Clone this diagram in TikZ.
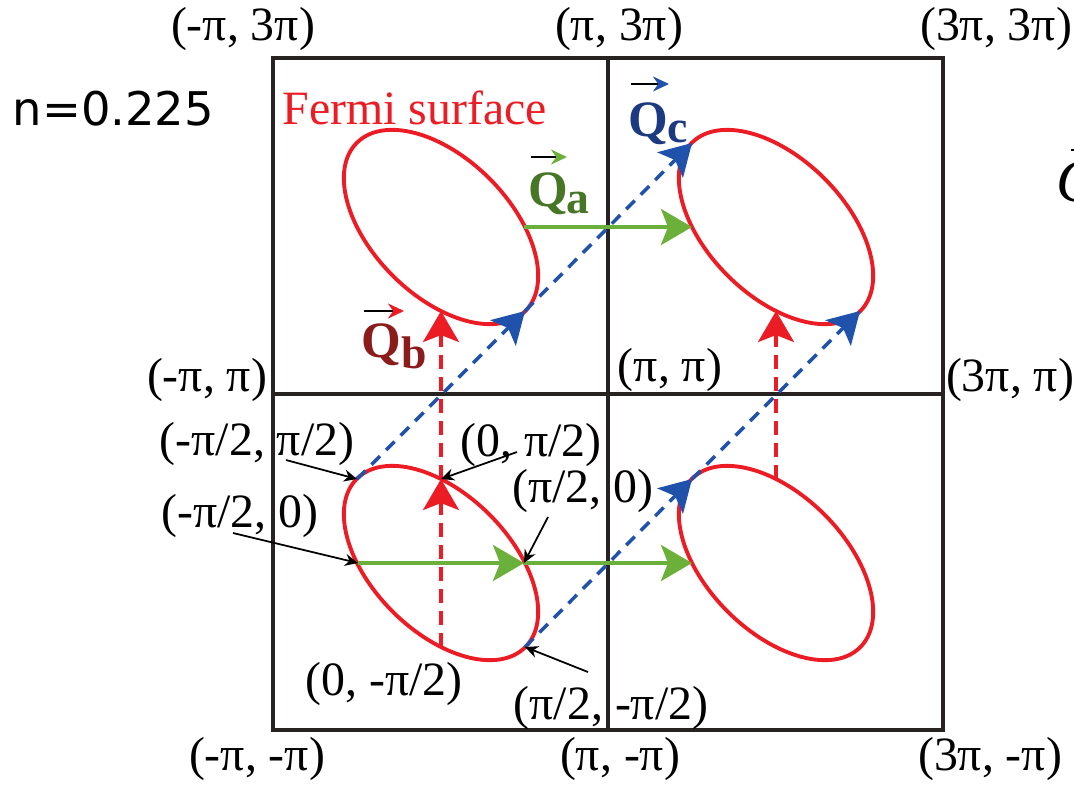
\documentclass[tikz,border=0pt]{standalone}
\usepackage{fontspec}
\setmainfont{Liberation Serif}
\newfontfamily\densityfont{DejaVu Sans}
\usetikzlibrary{arrows.meta}
\definecolor{gridgray}{RGB}{40,34,34}
\definecolor{fsred}{RGB}{236,28,36}
\definecolor{qgreen}{RGB}{108,176,60}
\definecolor{qblue}{RGB}{32,82,172}
\definecolor{qatext}{RGB}{70,118,38}
\definecolor{qbtext}{RGB}{140,28,28}
\definecolor{qctext}{RGB}{28,58,130}

\begin{document}
\begin{tikzpicture}[
  x=0.01cm, y=-0.01cm,
  every node/.style={font=\fontsize{13.6}{16}\selectfont, inner sep=0pt},
  gridline/.style={draw=gridgray, line width=1pt},
  fermiline/.style={draw=fsred, line width=1.1pt},
  qaline/.style={draw=qgreen, line width=1.1pt},
  qbline/.style={draw=fsred, line width=1pt, dash pattern=on 0.14cm off 0.08cm},
  qcline/.style={draw=qblue, line width=1pt, dash pattern=on 0.12cm off 0.085cm},
  bigarr/.style={-{Stealth[length=3.1mm, width=3.6mm, inset=0.7mm]}},
  ptarr/.style={-{Stealth[length=1.3mm, width=1.2mm]}, line width=0.5pt},
  vecarr/.style={line width=0.8pt, -{Stealth[length=1.6mm, width=1.5mm, color=#1]}},
  qtext/.style={font=\fontsize{14.5}{16}\selectfont\bfseries, text=#1},
  qsub/.style={font=\fontsize{13}{14}\selectfont\bfseries, text=#1},
]
\useasboundingbox (0,0) rectangle (1074,784);

%% Brillouin zone grid
\draw[gridline] (273,58) rectangle (943,730);
\draw[gridline] (608,58) -- (608,730);
\draw[gridline] (273,394) -- (943,394);

%% Corner labels
\node (c1) at (243,29)  {(-π, 3π)};
\node (c2) at (619,29)  {(π, 3π)};
\node (c3) at (996,29)  {(3π, 3π)};
\node (c4) at (207,380) {(-π, π)};
\node (c5) at (670,370) {(π, π)};
\node (c6) at (1010,380) {(3π, π)};
\node (c7) at (257,759) {(-π, -π)};
\node (c8) at (620,759) {(π, -π)};
\node (c9) at (990,759) {(3π, -π)};

%% Filling and title
\node[anchor=base west, font=\densityfont\fontsize{13.2}{14}\selectfont] (filling) at (12,125) {n=0.225};
\node[anchor=base west, text=fsred] (fstitle) at (282,124) {Fermi surface};

%% Fermi surfaces
\draw[fermiline, rotate around={-45:(441,227)}] (441,227) ellipse [x radius=1.19cm, y radius=0.685cm];
\draw[fermiline, rotate around={-45:(776,227)}] (776,227) ellipse [x radius=1.19cm, y radius=0.685cm];
\draw[fermiline, rotate around={-45:(441,563)}] (441,563) ellipse [x radius=1.19cm, y radius=0.685cm];
\draw[fermiline, rotate around={-45:(776,563)}] (776,563) ellipse [x radius=1.19cm, y radius=0.685cm];

%% Points on the Fermi surfaces
\coordinate (blL)  at (358,563);
\coordinate (blR)  at (524,563);
\coordinate (blT)  at (441,479);
\coordinate (blB)  at (441,647);
\coordinate (blUL) at (357,479);
\coordinate (blLR) at (525,647);
\coordinate (tlR)  at (524,227);
\coordinate (tlB)  at (441,311);
\coordinate (tlLR) at (525,311);
\coordinate (trL)  at (692,227);
\coordinate (trB)  at (776,311);
\coordinate (trUL) at (692,143);
\coordinate (trLR) at (860,311);
\coordinate (brL)  at (692,563);
\coordinate (brT)  at (776,479);
\coordinate (brUL) at (692,479);

%% Nesting vectors
\draw[qcline, bigarr] (blUL) -- (tlLR);
\draw[qcline, bigarr] (tlLR) -- (trUL);
\draw[qcline, bigarr] (blLR) -- (brUL);
\draw[qcline, bigarr] (brUL) -- (trLR);
\draw[qbline, bigarr] (blB) -- (blT);
\draw[qbline, bigarr] (blT) -- (tlB);
\draw[qbline, bigarr] (brT) -- (trB);
\draw[qaline, bigarr] (blL) -- (blR);
\draw[qaline, bigarr] (blR) -- (brL);
\draw[qaline, bigarr] (tlR) -- (trL);

%% Vector labels
\node[qtext=qatext, anchor=base west] (qa) at (528,206) {Q};
\node[qsub=qatext, anchor=base west] (qasub) at (566,213) {a};
\coordinate (qaarrL) at (531,157);
\coordinate (qaarrR) at (567,157);
\draw[vecarr=qgreen] (qaarrL) -- (qaarrR);
\node[qtext=qbtext, anchor=base west] (qb) at (361,357) {Q};
\node[qsub=qbtext, anchor=base west] (qbsub) at (401,368) {b};
\coordinate (qbarrL) at (364,311);
\coordinate (qbarrR) at (404,311);
\draw[vecarr=fsred] (qbarrL) -- (qbarrR);
\node[qtext=qctext, anchor=base west] (qc) at (628,136) {Q};
\node[qsub=qctext, anchor=base west] (qcsub) at (667,142) {c};
\coordinate (qcarrL) at (631,84);
\coordinate (qcarrR) at (669,84);
\draw[vecarr=qblue] (qcarrL) -- (qcarrR);

%% Point labels
\node (pUL) at (257,444) {(-π/2, π/2)};
\node (pL)  at (240,516) {(-π/2, 0)};
\node (pT)  at (531,445) {(0, π/2)};
\node (pR)  at (583,491) {(π/2, 0)};
\node (pB)  at (384,684) {(0, -π/2)};
\node (pLR) at (611,708) {(π/2, -π/2)};
\coordinate (tUL) at (286,460);
\coordinate (tL)  at (233,533);
\coordinate (tT)  at (517,452);
\coordinate (tR)  at (548,517);
\coordinate (tLR) at (588,672);
\draw[ptarr] (tUL) -- (blUL);
\draw[ptarr] (tL) -- (blL);
\draw[ptarr] (tT) -- (blT);
\draw[ptarr] (tR) -- (blR);
\draw[ptarr] (tLR) -- (blLR);

%% Cut-off label at the right edge
\node[anchor=base west, font=\fontsize{17}{18}\selectfont\itshape] (qcut) at (1056,201) {Q};
\coordinate (cutL) at (1071,150);
\coordinate (cutR) at (1082,150);
\draw[line width=0.6pt] (cutL) -- (cutR);

\end{tikzpicture}
\end{document}
